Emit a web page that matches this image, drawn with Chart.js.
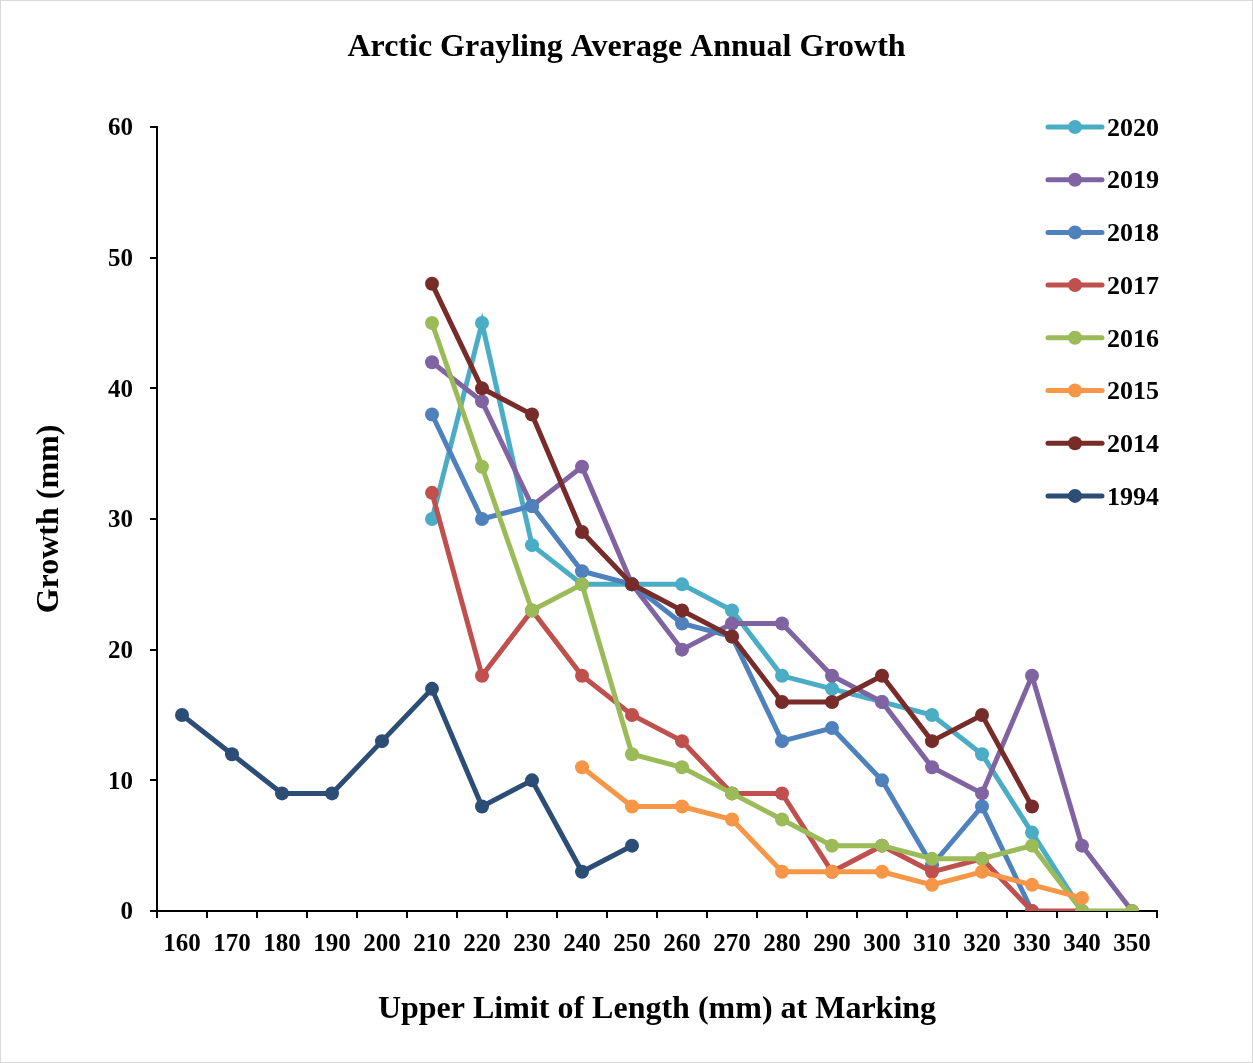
<!DOCTYPE html>
<html>
<head>
<meta charset="utf-8">
<title>Arctic Grayling Average Annual Growth</title>
<script src="https://cdn.jsdelivr.net/npm/chart.js@4.4.1/dist/chart.umd.min.js"></script>
<style>
  html, body { margin: 0; padding: 0; background: #fff; }
  canvas { display: block; }
</style>
</head>
<body>
<canvas id="growthChart" width="1253" height="1063"></canvas>
<script>
// length classes (upper limit, mm)
const lengths = ['160', '170', '180', '190', '200', '210', '220', '230', '240', '250',
                 '260', '270', '280', '290', '300', '310', '320', '330', '340', '350'];

// growth (mm) per marking year
const growth2020 = [null, null, null, null, null, 30, 45, 28, 25, 25, 25, 23, 18, 17, 16, 15, 12, 6, 0, null];
const growth2019 = [null, null, null, null, null, 42, 39, 31, 34, 25, 20, 22, 22, 18, 16, 11, 9, 18, 5, 0];
const growth2018 = [null, null, null, null, null, 38, 30, 31, 26, 25, 22, 21, 13, 14, 10, 3.5, 8, 0, null, null];
const growth2017 = [null, null, null, null, null, 32, 18, 23, 18, 15, 13, 9, 9, 3, 5, 3, 4, 0, 0, null];
const growth2016 = [null, null, null, null, null, 45, 34, 23, 25, 12, 11, 9, 7, 5, 5, 4, 4, 5, 0, 0];
const growth2015 = [null, null, null, null, null, null, null, null, 11, 8, 8, 7, 3, 3, 3, 2, 3, 2, 1, null];
const growth2014 = [null, null, null, null, null, 48, 40, 38, 29, 25, 23, 21, 16, 16, 18, 13, 15, 8, null, null];
const growth1994 = [15, 12, 9, 9, 13, 17, 8, 10, 3, 5, null, null, null, null, null, null, null, null, null, null];

const yTicks = [0, 10, 20, 30, 40, 50, 60];

const years = ['2020', '2019', '2018', '2017', '2016', '2015', '2014', '1994'];
const seriesData = [growth2020, growth2019, growth2018, growth2017, growth2016, growth2015, growth2014, growth1994];
const colors = ['#4BACC6', '#8064A2', '#4F81BD', '#C0504D', '#9BBB59', '#F79646', '#772C2A', '#2C4D75'];

const serif = "'Liberation Serif', 'Times New Roman', serif";

const datasets = years.map((yr, i) => ({
    label: yr,
    data: seriesData[i],
    borderColor: colors[i],
    backgroundColor: colors[i],
    pointBackgroundColor: colors[i],
    pointBorderWidth: 0,
    pointRadius: 7,
    pointHoverRadius: 7,
    borderWidth: 5,
    tension: 0,
    spanGaps: false,
    // later series sit on top, like the original
    order: years.length - i
}));

// white page with a thin grey frame
const frame = {
    id: 'frame',
    beforeDraw(chart) {
        const ctx = chart.ctx;
        ctx.save();
        ctx.fillStyle = '#fff';
        ctx.fillRect(0, 0, chart.width, chart.height);
        ctx.strokeStyle = '#d9d9d9';
        ctx.lineWidth = 1;
        ctx.strokeRect(0.5, 0.5, chart.width - 1, chart.height - 1);
        ctx.restore();
    }
};

// legend drawn inside the plot, top right
const insideLegend = {
    id: 'insideLegend',
    afterDraw(chart) {
        const ctx = chart.ctx;
        const area = chart.chartArea;
        const x0 = area.right - 109;
        const step = 52.7;
        ctx.save();
        ctx.font = 'bold 26px ' + serif;
        ctx.textBaseline = 'middle';
        ctx.textAlign = 'left';
        chart.data.datasets.forEach((ds, i) => {
            const y = area.top + i * step;
            ctx.strokeStyle = ds.borderColor;
            ctx.lineWidth = 5;
            ctx.lineCap = 'round';
            ctx.beginPath();
            ctx.moveTo(x0, y);
            ctx.lineTo(x0 + 54, y);
            ctx.stroke();
            ctx.fillStyle = ds.borderColor;
            ctx.beginPath();
            ctx.arc(x0 + 27, y, 7, 0, Math.PI * 2);
            ctx.fill();
            ctx.fillStyle = '#000';
            ctx.fillText(ds.label, x0 + 59, y + 2);
        });
        ctx.restore();
    }
};

new Chart(document.getElementById('growthChart'), {
    type: 'line',
    data: { labels: lengths, datasets: datasets },
    plugins: [frame, insideLegend],
    options: {
        responsive: false,
        animation: false,
        events: [],
        layout: { padding: 0 },
        plugins: {
            legend: { display: false },
            tooltip: { enabled: false },
            title: {
                display: true,
                text: 'Arctic Grayling Average Annual Growth',
                color: '#000',
                font: { family: serif, size: 32, weight: 'bold', lineHeight: 1.2 },
                padding: { top: 29, bottom: 59.6 }
            }
        },
        scales: {
            x: {
                type: 'category',
                offset: true,
                grid: {
                    offset: true,
                    display: true,
                    drawOnChartArea: false,
                    drawTicks: true,
                    tickLength: 7,
                    color: '#000',
                    lineWidth: 2
                },
                border: { display: true, color: '#000', width: 2 },
                ticks: {
                    color: '#000',
                    padding: 12,
                    maxRotation: 0,
                    autoSkip: false,
                    font: { family: serif, size: 25, weight: 'bold', lineHeight: 1.2 }
                },
                title: {
                    display: true,
                    text: 'Upper Limit of Length (mm) at Marking',
                    color: '#000',
                    font: { family: serif, size: 32, weight: 'bold', lineHeight: 1.2 },
                    padding: { top: 0, bottom: 34 }
                },
                afterFit(scale) { scale.height = 152; }
            },
            y: {
                min: 0,
                max: 60,
                afterBuildTicks(scale) { scale.ticks = yTicks.map(v => ({ value: v })); },
                grid: {
                    display: true,
                    drawOnChartArea: false,
                    drawTicks: true,
                    tickLength: 7,
                    color: '#000',
                    lineWidth: 2
                },
                border: { display: true, color: '#000', width: 2 },
                ticks: {
                    color: '#000',
                    padding: 17,
                    labelOffset: 2,
                    font: { family: serif, size: 25, weight: 'bold', lineHeight: 1.2 }
                },
                title: {
                    display: true,
                    text: 'Growth (mm)',
                    color: '#000',
                    font: { family: serif, size: 32, weight: 'bold', lineHeight: 1.2 },
                    padding: { top: 31, bottom: 0 }
                },
                afterFit(scale) { scale.width = 157; }
            },
            // empty right-hand space, keeps the title centred on the page
            spacer: {
                type: 'linear',
                position: 'right',
                display: true,
                grid: { display: false, drawTicks: false },
                border: { display: false },
                ticks: { display: false },
                afterFit(scale) { scale.width = 96; }
            }
        }
    }
});
</script>
</body>
</html>
